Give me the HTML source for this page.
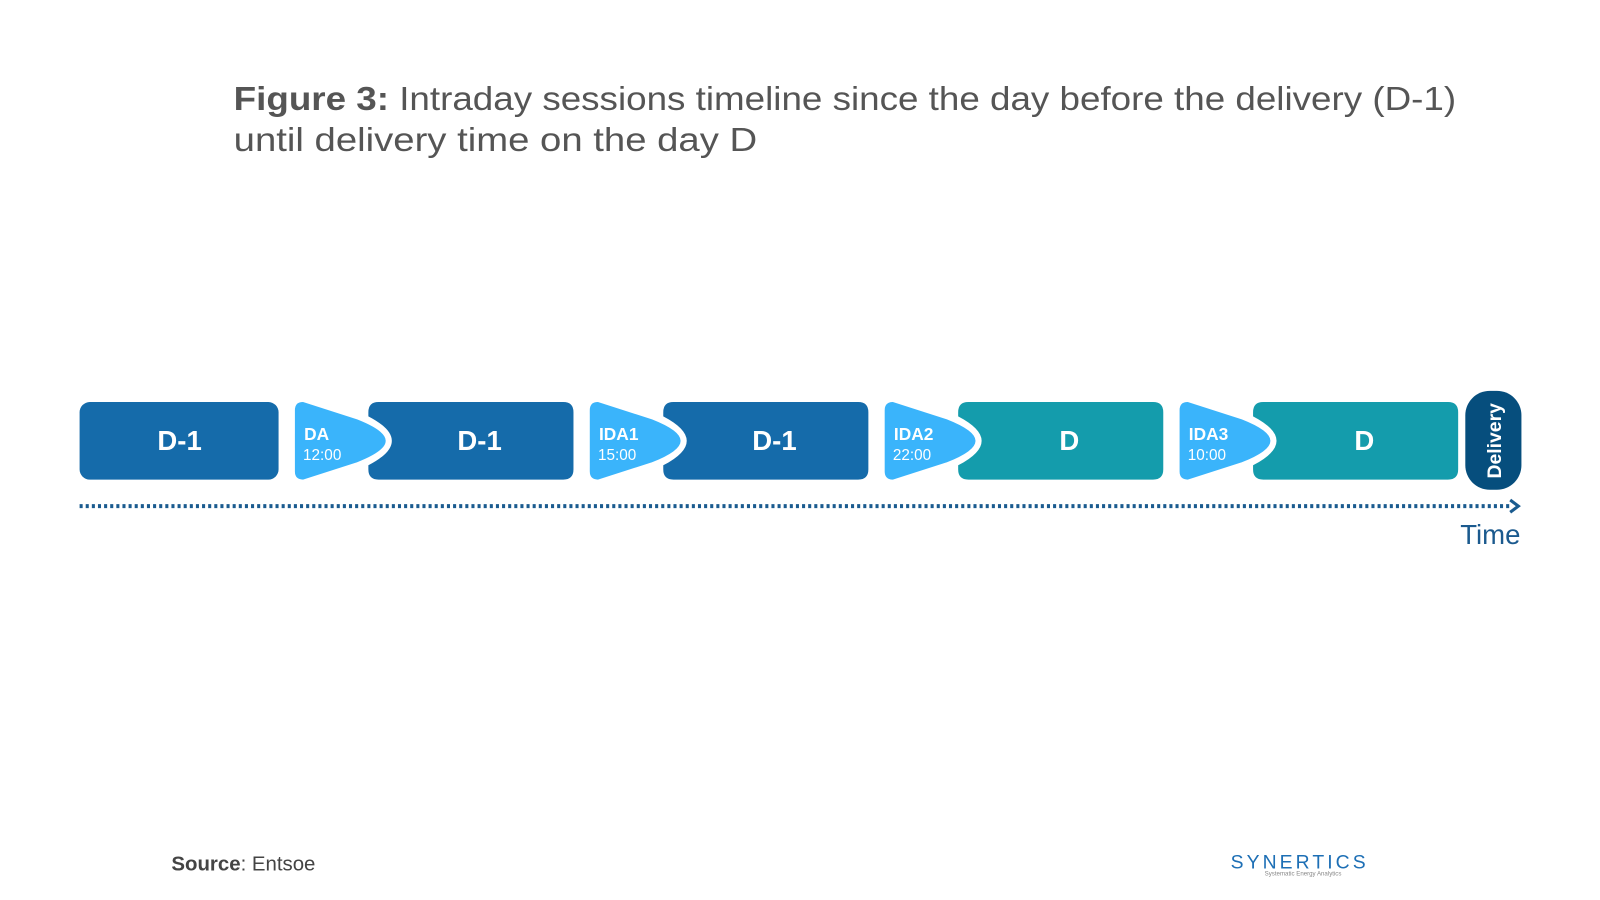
<!DOCTYPE html>
<html><head><meta charset="utf-8"><style>
html,body{margin:0;padding:0;background:#fff;}
svg{display:block;font-family:"Liberation Sans",sans-serif;}
</style></head><body>
<svg width="1600" height="900" viewBox="0 0 1568 882" xmlns="http://www.w3.org/2000/svg">
<rect width="1568" height="882" fill="#fff"/>
<text x="229" y="108" font-size="33" fill="#555" textLength="1198" lengthAdjust="spacingAndGlyphs"><tspan font-weight="bold">Figure 3:</tspan> Intraday sessions timeline since the day before the delivery (D-1)</text>
<text x="229" y="148" font-size="33" fill="#555" textLength="513" lengthAdjust="spacingAndGlyphs">until delivery time on the day D</text>

<rect x="78" y="394" width="195" height="76" rx="10" fill="#156BAA"/>
<text x="176" y="441" font-size="27" font-weight="bold" fill="#fff" text-anchor="middle">D-1</text>

<g>
<path d="M297,394 L350,411 Q378,422 378,432 Q378,442 350,453 L297,470 Q289,470 289,462 V402 Q289,394 297,394 Z" fill="#3AB4FB"/>
<text x="298" y="431" font-size="17" font-weight="bold" fill="#fff">DA</text>
<text x="297" y="451" font-size="15" fill="#fff">12:00</text>
<path d="M371,394 H552 Q562,394 562,404 V460 Q562,470 552,470 H371 Q361,470 361,460 V456 Q384,444 384,432 Q384,420 361,408 V404 Q361,394 371,394 Z" fill="#156BAA"/>
<text x="470" y="441" font-size="27" font-weight="bold" fill="#fff" text-anchor="middle">D-1</text>
</g>
<g transform="translate(289,0)">
<path d="M297,394 L350,411 Q378,422 378,432 Q378,442 350,453 L297,470 Q289,470 289,462 V402 Q289,394 297,394 Z" fill="#3AB4FB"/>
<text x="298" y="431" font-size="17" font-weight="bold" fill="#fff">IDA1</text>
<text x="297" y="451" font-size="15" fill="#fff">15:00</text>
<path d="M371,394 H552 Q562,394 562,404 V460 Q562,470 552,470 H371 Q361,470 361,460 V456 Q384,444 384,432 Q384,420 361,408 V404 Q361,394 371,394 Z" fill="#156BAA"/>
<text x="470" y="441" font-size="27" font-weight="bold" fill="#fff" text-anchor="middle">D-1</text>
</g>
<g transform="translate(578,0)">
<path d="M297,394 L350,411 Q378,422 378,432 Q378,442 350,453 L297,470 Q289,470 289,462 V402 Q289,394 297,394 Z" fill="#3AB4FB"/>
<text x="298" y="431" font-size="17" font-weight="bold" fill="#fff">IDA2</text>
<text x="297" y="451" font-size="15" fill="#fff">22:00</text>
<path d="M371,394 H552 Q562,394 562,404 V460 Q562,470 552,470 H371 Q361,470 361,460 V456 Q384,444 384,432 Q384,420 361,408 V404 Q361,394 371,394 Z" fill="#149CAC"/>
<text x="470" y="441" font-size="27" font-weight="bold" fill="#fff" text-anchor="middle">D</text>
</g>
<g transform="translate(867,0)">
<path d="M297,394 L350,411 Q378,422 378,432 Q378,442 350,453 L297,470 Q289,470 289,462 V402 Q289,394 297,394 Z" fill="#3AB4FB"/>
<text x="298" y="431" font-size="17" font-weight="bold" fill="#fff">IDA3</text>
<text x="297" y="451" font-size="15" fill="#fff">10:00</text>
<path d="M371,394 H552 Q562,394 562,404 V460 Q562,470 552,470 H371 Q361,470 361,460 V456 Q384,444 384,432 Q384,420 361,408 V404 Q361,394 371,394 Z" fill="#149CAC"/>
<text x="470" y="441" font-size="27" font-weight="bold" fill="#fff" text-anchor="middle">D</text>
</g>

<rect x="1436" y="383" width="55" height="97" rx="24" fill="#064E7D"/>
<text transform="translate(1471,432) rotate(-90)" font-size="19" font-weight="bold" fill="#fff" text-anchor="middle">Delivery</text>

<line x1="78" y1="496" x2="1482" y2="496" stroke="#1a5b8f" stroke-width="4" stroke-dasharray="3,3"/>
<path d="M1480,490 L1488,496 L1480,502" fill="none" stroke="#1a5b8f" stroke-width="3"/>
<text x="1490" y="533" font-size="27" fill="#1b5a8e" text-anchor="end">Time</text>

<text x="168" y="853" font-size="20" fill="#444"><tspan font-weight="bold">Source</tspan>: Entsoe</text>
<text x="1206" y="851" font-size="19" fill="#1d6fb5" letter-spacing="3">SYNERTICS</text>
<text x="1277" y="858" font-size="6" fill="#888" text-anchor="middle">Systematic Energy Analytics</text>
</svg>
</body></html>
